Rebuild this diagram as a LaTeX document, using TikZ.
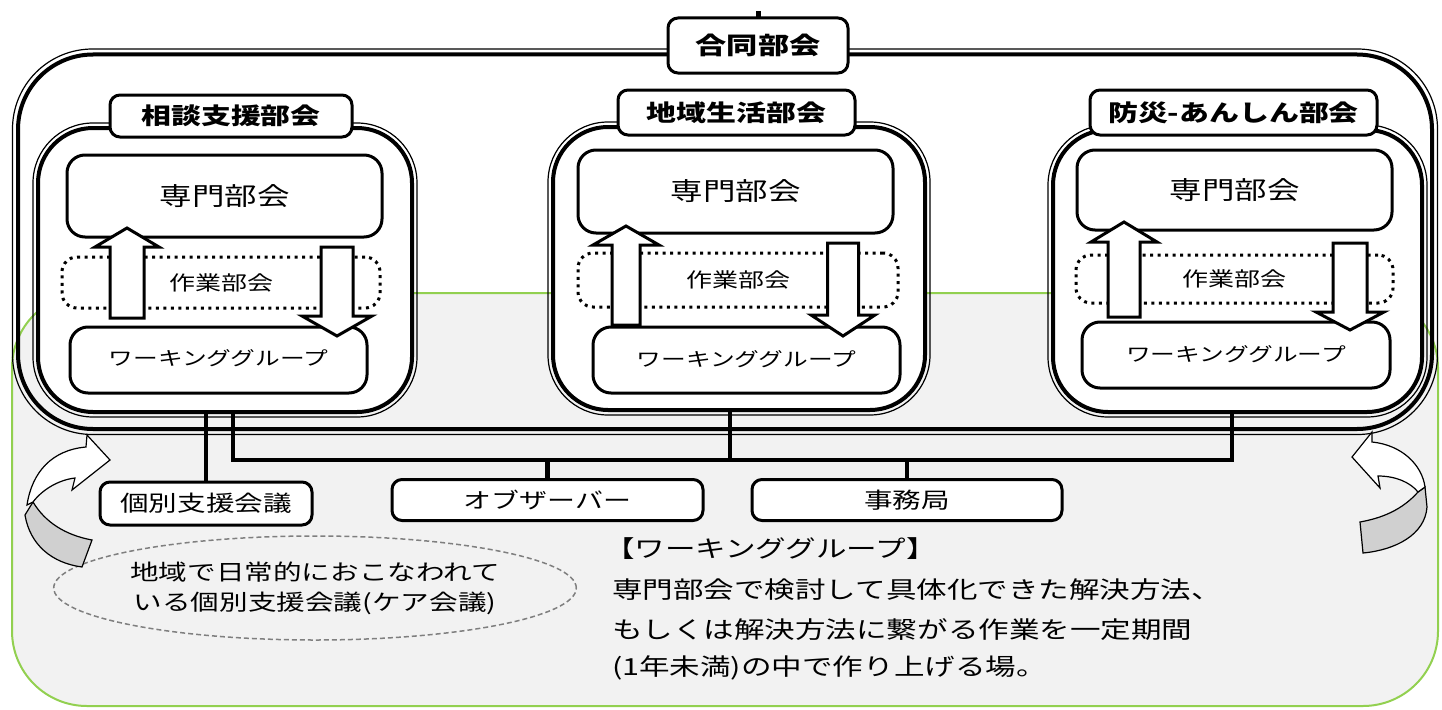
\documentclass[tikz,border=0pt]{standalone}
\usepackage{fontspec}
\newfontfamily\jp[FakeStretch=1.3]{Noto Sans CJK JP}
\usetikzlibrary{shapes.geometric}
\definecolor{gline}{HTML}{92D050}
\definecolor{gfill}{HTML}{F2F2F2}
\definecolor{ribbon}{HTML}{D0D0D0}
\definecolor{elline}{HTML}{7F7F7F}
\newcommand\fs[1]{\fontsize{#1pt}{#1pt}\selectfont}
\newcommand\blkarrow[6]{\draw[blockarrow] (#1-#5,#4) -- (#1-#5,#3) -- (#1-#6,#3) -- (#1,#2) -- (#1+#6,#3) -- (#1+#5,#3) -- (#1+#5,#4) -- cycle;}
\begin{document}
\begin{tikzpicture}[x=1pt,y=-1pt,
  every node/.style={outer sep=0pt, inner sep=0pt},
  areabox/.style={fill=white, rounded corners=75pt, minimum width=1414pt, minimum height=374.5pt},
  panelbox/.style={draw, line width=4pt, fill=white, rounded corners=55pt},
  rimline/.style={line width=1.2pt},
  titlebox/.style={draw, line width=3pt, fill=white, rounded corners=10pt, font={\jp\bfseries\fs{23}}},
  senbox/.style={draw, line width=3pt, fill=white, rounded corners=18pt, minimum width=315pt, font={\jp\fs{25}}},
  sagyobox/.style={draw, line width=3pt, dash pattern=on 3pt off 4.5pt, rounded corners=15pt, font={\jp\fs{20}}},
  wgbox/.style={draw, line width=3pt, fill=white, rounded corners=18pt, font={\jp\fs{19}}},
  blockarrow/.style={draw, line width=3pt, fill=white, line join=miter},
  lowbox/.style={draw, line width=3pt, fill=white, rounded corners=10pt, minimum height=41pt, font={\jp\fs{22}}},
  conn/.style={line width=4.5pt},
  ribbonline/.style={draw, line width=1.2pt, line join=miter},
  txt/.style={font={\jp\fs{23.5}}, anchor=west}
]
\useasboundingbox (0,0) rectangle (1442,709);
% outer joint area
\node[areabox] (outer) at (725,241.75) {};
\draw[gline, line width=2pt, fill=gfill, rounded corners=75pt] (12,293) rectangle (1438,706);
\draw[line width=4pt, rounded corners=75pt] (outer.north west) rectangle (outer.south east);
\draw[rimline, rounded corners=80pt] ([shift={(-5.5,-5.5)}]outer.north west) rectangle ([shift={(5.5,5.5)}]outer.south east);
% panels
\node[panelbox, minimum width=374pt, minimum height=284pt] (pL) at (225,270) {};
\node[panelbox, minimum width=372pt, minimum height=283pt] (pM) at (739,268.5) {};
\node[panelbox, minimum width=369pt, minimum height=282pt] (pR) at (1237.5,271) {};
\foreach \p in {pL,pM,pR} \draw[rimline, rounded corners=60pt] ([shift={(-5,-5)}]\p.north west) rectangle ([shift={(5,5)}]\p.south east);
% titles
\node[titlebox, minimum width=180pt, minimum height=55pt, font={\jp\bfseries\fs{24}}] (godo) at (758,45.5) {合同部会};
\coordinate (tk) at (758,11);
\draw[line width=5pt] (tk) -- (tk |- godo.north);
\node[titlebox, minimum width=242pt, minimum height=42pt] (tL) at (231,116) {相談支援部会};
\node[titlebox, minimum width=237pt, minimum height=45pt] (tM) at (736.5,112.5) {地域生活部会};
\node[titlebox, minimum width=287pt, minimum height=45pt] (tR) at (1233.5,112.5) {防災-あんしん部会};
% inner boxes
\node[senbox, minimum height=82pt] (sL) at (224.5,196) {専門部会};
\node[senbox, minimum height=83pt] (sM) at (735.5,191.5) {専門部会};
\node[senbox, minimum height=80pt] (sR) at (1234.5,190) {専門部会};
\node[wgbox, minimum width=297pt, minimum height=66pt] (wL) at (218.5,360) {\raisebox{4pt}{ワーキンググループ}};
\node[wgbox, minimum width=307pt, minimum height=66pt] (wM) at (746.5,360) {\raisebox{2pt}{ワーキンググループ}};
\node[wgbox, minimum width=308pt, minimum height=66pt] (wR) at (1236,355) {\raisebox{3pt}{ワーキンググループ}};
\node[sagyobox, minimum width=318pt, minimum height=51pt] (gL) at (221,282.5) {作業部会};
\node[sagyobox, minimum width=320pt, minimum height=54pt] (gM) at (738,280) {作業部会};
\node[sagyobox, minimum width=317pt, minimum height=48pt] (gR) at (1234.5,279) {作業部会};
% block arrows
\blkarrow{127}{228}{247}{318}{17}{32}
\blkarrow{337}{336}{316}{247}{16}{35}
\blkarrow{626}{226}{245}{325}{14}{33}
\blkarrow{843}{336}{315}{243}{15.5}{32}
\blkarrow{1124}{222}{242}{317}{16}{33}
\blkarrow{1350}{330}{312}{243}{17}{34}
% lower boxes
\node[lowbox, minimum width=212pt, minimum height=43pt] (kb) at (206,503.5) {個別支援会議};
\node[lowbox, minimum width=311pt, font={\jp\fs{21.5}}] (ob) at (547.5,500) {オブザーバー};
\node[lowbox, minimum width=310pt] (jm) at (907,500) {事務局};
% connectors
\coordinate (busL) at (233,460);
\coordinate (busM) at (730,460);
\coordinate (busR) at (1232,460);
\draw[conn] (pL.south -| kb.north) -- (kb.north);
\draw[conn] (pM.south -| busM) -- (busM);
\draw[conn, line join=miter] (pL.south -| busL) -- (busL) -- (busR) -- (pR.south -| busR);
\draw[conn] (busL -| ob.north) -- (ob.north);
\draw[conn] (busL -| jm.north) -- (jm.north);
% ellipse
\node[ellipse, draw=elline, line width=1.5pt, dash pattern=on 5pt off 3pt, fill=gfill, minimum width=450pt, minimum height=104pt, align=center, font={\jp\fontsize{22pt}{30pt}\selectfont}] (el) at (315,588) {地域で日常的におこなわれて\\いる個別支援会議(ケア会議)};
% curved arrows
\draw[ribbonline, fill=ribbon] (33,502) .. controls (45,522) and (65,535) .. (92,540) -- (82,567) .. controls (52,563) and (30,545) .. (25,515) -- cycle;
\draw[ribbonline, fill=white] (27,505) .. controls (32,472) and (52,450) .. (86,447) -- (87,435) -- (110,460) -- (72,490) -- (75,478) .. controls (58,480) and (42,490) .. (33,502) -- cycle;
\draw[ribbonline, fill=ribbon] (1418,492) .. controls (1402,510) and (1382,518) .. (1360,522) -- (1363,553) .. controls (1395,550) and (1425,535) .. (1427,507) -- (1425,487) -- cycle;
\draw[ribbonline, fill=white] (1372,432) -- (1352,457) -- (1380,488) -- (1378,476) .. controls (1395,476) and (1410,482) .. (1418,492) -- (1425,487) .. controls (1422,465) and (1402,445) .. (1372,442) -- cycle;
% description
\node[txt] (d1) at (604,549) {【ワーキンググループ】};
\node[txt] (d2) at (612,590) {専門部会で検討して具体化できた解決方法、};
\node[txt] (d3) at (612,630) {もしくは解決方法に繋がる作業を一定期間};
\node[txt] (d4) at (612,668) {(1年未満)の中で作り上げる場。};
\end{tikzpicture}
\end{document}
